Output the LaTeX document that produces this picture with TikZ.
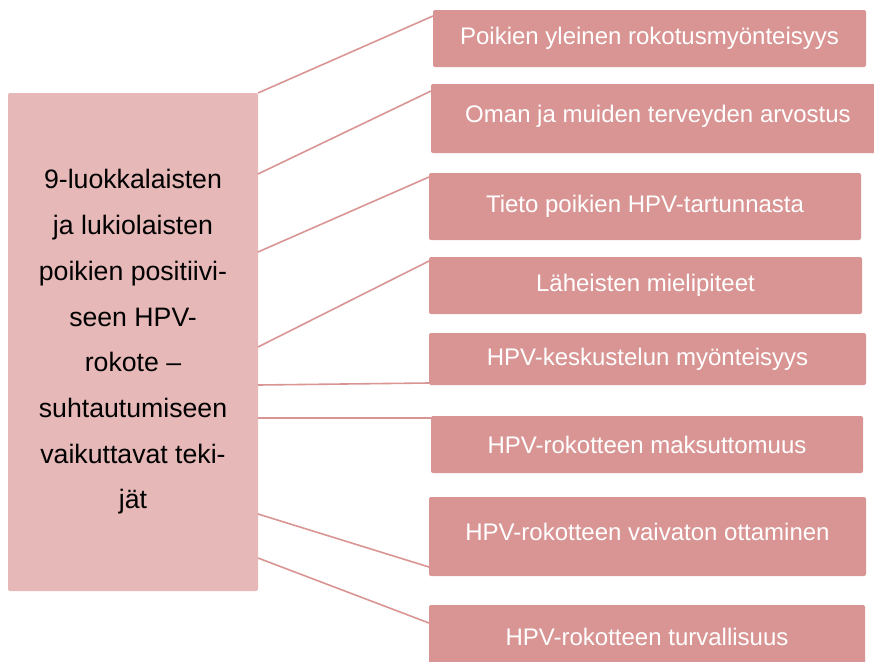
\documentclass[tikz,border=0pt]{standalone}
\usepackage{fontspec}
\setmainfont{Liberation Sans}
\usepackage{tikz}

\definecolor{mainpink}{RGB}{230,184,183}
\definecolor{factorpink}{RGB}{217,149,148}

\tikzset{
  mainbox/.style={fill=mainpink, rounded corners=1.5pt, inner sep=0pt, outer sep=0pt,
    anchor=north west, text=black},
  factorbox/.style={fill=factorpink, rounded corners=1.5pt, inner sep=0pt, outer sep=0pt,
    anchor=north west, text=white, font=\fontsize{18}{21}\selectfont},
  link/.style={draw=factorpink, line width=1.2pt}
}

\begin{document}
\begin{tikzpicture}[x=0.75pt, y=-0.75pt]
  \useasboundingbox (0,0) rectangle (874,661);

  \node[mainbox, minimum width=187.5pt, minimum height=373.5pt] (src) at (8,93)
    {\raisebox{6pt}{\parbox{185pt}{\centering\fontsize{20}{34.3}\selectfont
      9-luokkalaisten\\ ja lukiolaisten\\ poikien positiivi-\\ seen HPV-\\
      rokote --\\ suhtautumiseen\\ vaikuttavat teki-\\ jät}}};

  \node[factorbox, minimum width=324.75pt, minimum height=42.75pt] (b1) at (433,10)
    {\raisebox{-1.5pt}{Poikien yleinen rokotusmyönteisyys}};
  \node[factorbox, minimum width=340.5pt, minimum height=51.75pt] (b2) at (431,84)
    {\raisebox{6.5pt}{Oman ja muiden terveyden arvostus}};
  \node[factorbox, minimum width=324pt, minimum height=50.25pt] (b3) at (429,173)
    {\raisebox{3pt}{Tieto poikien HPV-tartunnasta}};
  \node[factorbox, minimum width=324.75pt, minimum height=42.75pt] (b4) at (429,257)
    {\raisebox{-2pt}{Läheisten mielipiteet}};
  \node[factorbox, minimum width=327.75pt, minimum height=39pt] (b5) at (429,333)
    {HPV-keskustelun myönteisyys};
  \node[factorbox, minimum width=324pt, minimum height=42.75pt] (b6) at (431,416)
    {HPV-rokotteen maksuttomuus};
  \node[factorbox, minimum width=327.75pt, minimum height=59.25pt] (b7) at (429,497)
    {\raisebox{6.5pt}{HPV-rokotteen vaivaton ottaminen}};
  \node[factorbox, minimum width=327pt, minimum height=47.25pt] (b8) at (429,605)
    {\raisebox{-1pt}{HPV-rokotteen turvallisuus}};

  % connectors from the main box to the factors
  \draw[link] (src.north east) -- ([yshift=-4.5pt]b1.north west);
  \draw[link] ([yshift=-60.75pt]src.north east) -- ([yshift=-5.25pt]b2.north west);
  \draw[link] ([yshift=-119.25pt]src.north east) -- ([yshift=-3pt]b3.north west);
  \draw[link] ([yshift=-190.5pt]src.north east) -- ([yshift=-3pt]b4.north west);
  \draw[link] ([yshift=-219pt]src.north east) -- ([yshift=1.5pt]b5.south west);
  \draw[link] ([yshift=-243.75pt]src.north east) -- ([yshift=-1.5pt]b6.north west);
  \draw[link] ([yshift=-315.75pt]src.north east) -- ([yshift=6.75pt]b7.south west);
  \draw[link] ([yshift=-348.75pt]src.north east) -- ([yshift=-13.5pt]b8.north west);
\end{tikzpicture}
\end{document}
